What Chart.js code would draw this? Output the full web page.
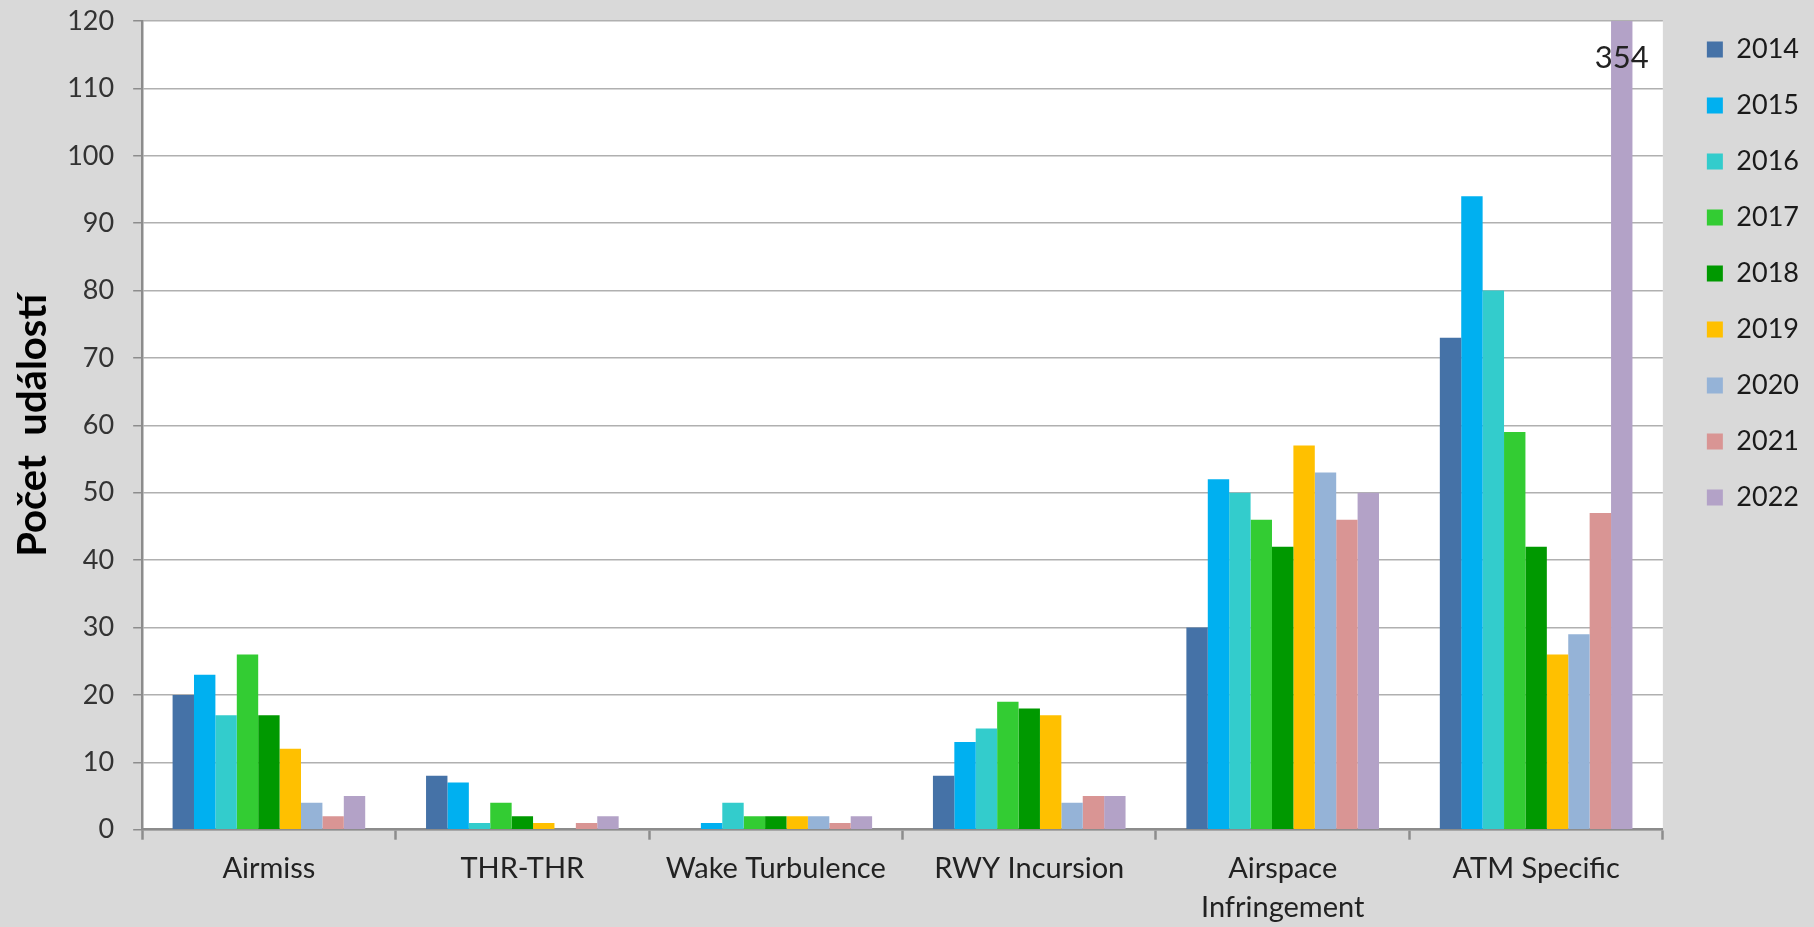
<!DOCTYPE html>
<html>
<head>
<meta charset="utf-8">
<script src="https://cdn.jsdelivr.net/npm/chart.js@4/dist/chart.umd.min.js"></script>
<style>
    html, body { margin: 0; padding: 0; background: #d9d9d9; }
    #wrap { width: 1814px; height: 927px; }
</style>
</head>
<body>
<div id="wrap"><canvas id="eventsChart"></canvas></div>
<script>
// Categories and yearly values (ATM Specific 2022 runs off the scale: 354)
const categories = ['Airmiss', 'THR-THR', 'Wake Turbulence', 'RWY Incursion', ['Airspace', 'Infringement'], 'ATM Specific'];
const years = ['2014', '2015', '2016', '2017', '2018', '2019', '2020', '2021', '2022'];

const values2014 = [20, 8, 0, 8, 30, 73];
const values2015 = [23, 7, 1, 13, 52, 94];
const values2016 = [17, 1, 4, 15, 50, 80];
const values2017 = [26, 4, 2, 19, 46, 59];
const values2018 = [17, 2, 2, 18, 42, 42];
const values2019 = [12, 1, 2, 17, 57, 26];
const values2020 = [4, 0, 2, 4, 53, 29];
const values2021 = [2, 1, 1, 5, 46, 47];
const values2022 = [5, 2, 2, 5, 50, 354];

const yTicksMax = 120;
const yTicksStep = 10;

const seriesValues = [values2014, values2015, values2016, values2017, values2018,
                      values2019, values2020, values2021, values2022];

const yearColors = [
    '#4572a7',  // 2014
    '#00b0f0',  // 2015
    '#33cccc',  // 2016
    '#33cc33',  // 2017
    '#009900',  // 2018
    '#ffc000',  // 2019
    '#95b3d7',  // 2020
    '#d99594',  // 2021
    '#b3a2c7'   // 2022
];

const FONT = 'Lato, "Noto Sans", sans-serif';

// white plot area on the grey page
const plotBackground = {
    id: 'plotBackground',
    beforeDraw(chart) {
        const { ctx, chartArea } = chart;
        ctx.save();
        ctx.fillStyle = '#ffffff';
        ctx.fillRect(chartArea.left, chartArea.top, chartArea.right - chartArea.left, chartArea.bottom - chartArea.top);
        ctx.restore();
    }
};

// nudge the legend a little right and down, as in the original
const legendShift = {
    id: 'legendShift',
    afterLayout(chart) {
        if (chart.legend) {
            chart.legend.left += 15;
            chart.legend.right += 15;
            chart.legend.top += 7;
            chart.legend.bottom += 7;
        }
    }
};

// write the real value on bars that run past the top of the axis
const overflowLabels = {
    id: 'overflowLabels',
    afterDatasetsDraw(chart) {
        const { ctx, chartArea } = chart;
        const yMax = chart.scales.y.max;
        ctx.save();
        ctx.font = '31px ' + FONT;
        ctx.fillStyle = '#222222';
        ctx.textAlign = 'center';
        ctx.textBaseline = 'middle';
        chart.data.datasets.forEach((ds, i) => {
            const meta = chart.getDatasetMeta(i);
            ds.data.forEach((v, j) => {
                if (v > yMax) {
                    ctx.fillText(String(v), meta.data[j].x, chartArea.top + 37);
                }
            });
        });
        ctx.restore();
    }
};

const ctx = document.getElementById('eventsChart').getContext('2d');

new Chart(ctx, {
    type: 'bar',
    data: {
        labels: categories,
        datasets: years.map((year, i) => ({
            label: year,
            data: seriesValues[i],
            backgroundColor: yearColors[i],
            borderWidth: 0,
            categoryPercentage: 0.76,
            barPercentage: 1.0
        }))
    },
    options: {
        responsive: true,
        maintainAspectRatio: false,
        animation: false,
        devicePixelRatio: 1,
        layout: {
            padding: { top: 0, right: 20, bottom: -10, left: 0 }
        },
        plugins: {
            tooltip: { enabled: false },
            legend: {
                position: 'right',
                align: 'start',
                labels: {
                    boxWidth: 16,
                    boxHeight: 16,
                    padding: 29,
                    color: '#1a1a1a',
                    font: { family: FONT, size: 27 }
                }
            }
        },
        scales: {
            x: {
                grid: {
                    offset: true,
                    drawOnChartArea: false,
                    tickLength: 10,
                    tickColor: '#8c8c8c',
                    tickWidth: 2.5
                },
                border: { color: '#8c8c8c', width: 2.5 },
                ticks: {
                    color: '#222222',
                    padding: 9.5,
                    maxRotation: 0,
                    autoSkip: false,
                    font: { family: FONT, size: 29, lineHeight: 1.35 }
                }
            },
            y: {
                min: 0,
                max: yTicksMax,
                ticks: {
                    stepSize: yTicksStep,
                    color: '#333333',
                    padding: 19,
                    font: { family: FONT, size: 27, lineHeight: 0.15 }
                },
                grid: {
                    color: '#b0b0b0',
                    lineWidth: 1.5,
                    tickLength: 9,
                    tickColor: '#8c8c8c',
                    tickWidth: 1.5
                },
                border: { color: '#8c8c8c', width: 2.5 },
                title: {
                    display: true,
                    text: 'Počet  událostí',
                    color: '#000000',
                    padding: { top: 17, bottom: 0 },
                    font: { family: FONT, size: 40, weight: 'bold', lineHeight: 0.78 }
                }
            }
        }
    },
    plugins: [plotBackground, legendShift, overflowLabels]
});
</script>
</body>
</html>
